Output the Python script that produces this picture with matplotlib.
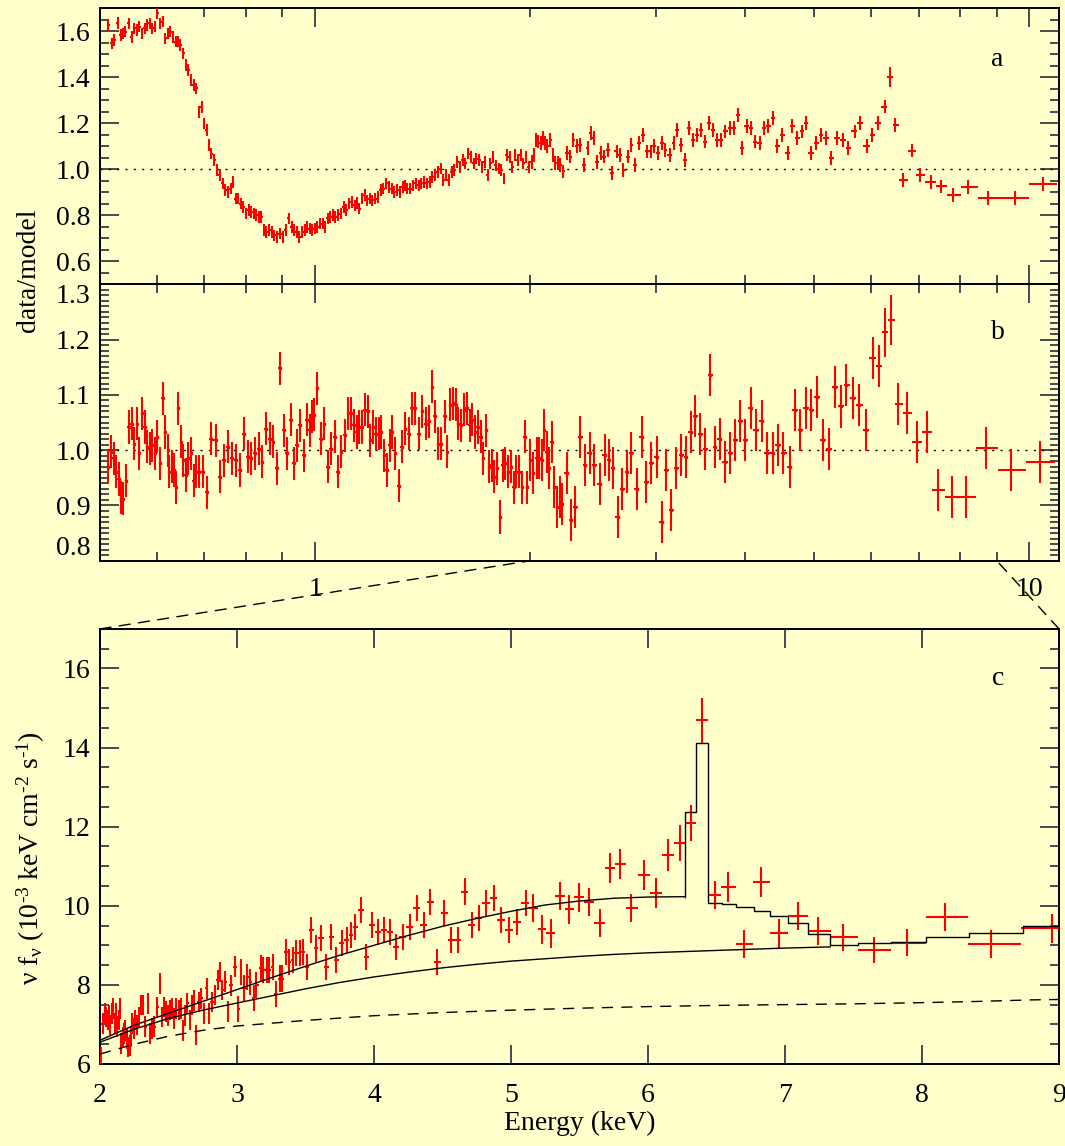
import numpy as np
import matplotlib
matplotlib.use("Agg")
import matplotlib.pyplot as plt
from matplotlib.patches import ConnectionPatch
from matplotlib.ticker import FixedLocator, MultipleLocator, NullFormatter, LogLocator

plt.rcParams['font.family'] = ['Liberation Serif', 'DejaVu Serif']
plt.rcParams['mathtext.fontset'] = 'custom'
plt.rcParams['mathtext.rm'] = 'Liberation Serif'
plt.rcParams['mathtext.it'] = 'Liberation Serif:italic'
plt.rcParams['mathtext.default'] = 'regular'

# ---------------- Panel a : data/model (soft part, 0.5-2 keV) ----------------
a_energy_soft = [0.5135, 0.5191, 0.5238, 0.5296, 0.5343, 0.5384, 0.5426, 0.5487, 0.5536, 0.5585,
                 0.5628, 0.5672, 0.5723, 0.5774, 0.5819, 0.5865, 0.5917, 0.5970, 0.6016, 0.6063,
                 0.6117, 0.6171, 0.6220, 0.6268, 0.6324, 0.6380, 0.6430, 0.6480, 0.6538, 0.6596,
                 0.6647, 0.6699, 0.6759, 0.6819, 0.6880, 0.6941, 0.6987, 0.7050, 0.7105, 0.7160,
                 0.7224, 0.7288, 0.7353, 0.7427, 0.7485, 0.7551, 0.7619, 0.7678, 0.7747, 0.7807,
                 0.7868, 0.7938, 0.8000, 0.8071, 0.8143, 0.8206, 0.8270, 0.8344, 0.8400, 0.8484,
                 0.8550, 0.8626, 0.8703, 0.8771, 0.8839, 0.8938, 0.9017, 0.9097, 0.9198, 0.9270,
                 0.9342, 0.9425, 0.9509, 0.9594, 0.9680, 0.9744, 0.9831, 0.9908, 0.9985, 1.0074,
                 1.0164, 1.0243, 1.0323, 1.0415, 1.0507, 1.0589, 1.0672, 1.0767, 1.0863, 1.0960,
                 1.1063, 1.1156, 1.1255, 1.1356, 1.1445, 1.1534, 1.1637, 1.1740, 1.1832, 1.1924,
                 1.2031, 1.2138, 1.2246, 1.2355, 1.2465, 1.2576, 1.2688, 1.2801, 1.2915, 1.3030,
                 1.3146, 1.3263, 1.3366, 1.3470, 1.3590, 1.3711, 1.3833, 1.3957, 1.4088, 1.4207,
                 1.4333, 1.4461, 1.4590, 1.4720, 1.4851, 1.4983, 1.5117, 1.5251, 1.5387, 1.5524,
                 1.5671, 1.5811, 1.5953, 1.6095, 1.6239, 1.6383, 1.6529, 1.6677, 1.6825, 1.6975,
                 1.7127, 1.7279, 1.7434, 1.7589, 1.7746, 1.7904, 1.8064, 1.8225, 1.8388, 1.8552,
                 1.8717, 1.8884, 1.9052, 1.9222, 1.9393, 1.9566, 1.9741, 1.9917, 2.0094]
a_ratio_soft = [1.626, 1.546, 1.561, 1.636, 1.583, 1.590, 1.597, 1.633, 1.575, 1.612,
                1.604, 1.619, 1.590, 1.612, 1.626, 1.633, 1.612, 1.619, 1.677, 1.633,
                1.641, 1.568, 1.590, 1.597, 1.575, 1.554, 1.554, 1.539, 1.503, 1.452,
                1.430, 1.387, 1.365, 1.351, 1.249, 1.271, 1.199, 1.170, 1.104, 1.068,
                1.039, 0.996, 0.974, 0.938, 0.909, 0.901, 0.916, 0.945, 0.872, 0.872,
                0.851, 0.836, 0.807, 0.822, 0.814, 0.807, 0.800, 0.793, 0.793, 0.735,
                0.728, 0.735, 0.728, 0.713, 0.706, 0.720, 0.706, 0.735, 0.786, 0.749,
                0.735, 0.728, 0.706, 0.728, 0.735, 0.749, 0.742, 0.735, 0.742, 0.749,
                0.764, 0.764, 0.749, 0.786, 0.793, 0.800, 0.793, 0.800, 0.807, 0.836,
                0.822, 0.851, 0.858, 0.843, 0.854, 0.829, 0.872, 0.887, 0.865, 0.872,
                0.865, 0.872, 0.880, 0.909, 0.916, 0.938, 0.923, 0.916, 0.901, 0.909,
                0.901, 0.923, 0.930, 0.916, 0.916, 0.930, 0.938, 0.930, 0.938, 0.945,
                0.938, 0.945, 0.967, 0.974, 0.988, 1.003, 0.952, 0.974, 0.952, 0.988,
                0.996, 1.032, 1.010, 1.039, 1.025, 1.068, 1.054, 1.025, 1.046, 1.039,
                1.010, 1.032, 0.974, 1.025, 1.054, 1.017, 1.003, 0.996, 0.959, 1.061,
                1.054, 1.010, 1.061, 1.039, 1.061, 1.025, 1.054, 1.010, 1.032]

# ---------------- Panel a : data/model (hard part, 2-11 keV) ----------------
a_energy_hard = [2.0237, 2.0371, 2.0529, 2.0687, 2.0824, 2.0985, 2.1147, 2.1334, 2.1522, 2.1689,
                 2.1856, 2.2049, 2.2244, 2.2539, 2.2738, 2.2989, 2.3243, 2.3500, 2.3759, 2.4075,
                 2.4341, 2.4556, 2.4827, 2.5102, 2.5380, 2.5717, 2.6059, 2.6433, 2.6725, 2.7021,
                 2.7410, 2.7713, 2.8081, 2.8392, 2.8769, 2.9183, 2.9506, 2.9832, 3.0162, 3.0597,
                 3.0935, 3.1346, 3.1763, 3.2114, 3.2577, 3.2937, 3.3375, 3.3781, 3.4229, 3.4684,
                 3.5144, 3.5611, 3.6004, 3.6483, 3.6969, 3.7542, 3.8040, 3.8545, 3.9057, 3.9576,
                 4.0189, 4.0723, 4.1263, 4.1904, 4.2555, 4.3120, 4.3692, 4.4371, 4.5060, 4.5860,
                 4.6571, 4.7295, 4.8029, 4.8668, 4.9424, 5.0301, 5.1083, 5.1876, 5.2797, 5.3854,
                 5.4810, 5.5784, 5.6899, 5.7909, 5.9196, 6.0247, 6.1453, 6.2682, 6.3723, 6.4926,
                 6.6587, 6.8443, 7.0349, 7.2709, 7.5149, 7.8268, 8.2052, 8.7630, 9.5382, 10.450]
a_ratio_hard = [1.062, 1.128, 1.120, 1.113, 1.135, 1.113, 1.099, 1.128, 1.062, 1.026,
                1.026, 1.019, 0.990, 1.070, 1.055, 1.128, 1.099, 1.106, 1.019, 1.091,
                1.157, 1.135, 1.033, 1.070, 1.055, 1.084, 0.983, 1.077, 1.062, 0.997,
                1.055, 1.106, 1.019, 1.113, 1.149, 1.077, 1.077, 1.099, 1.070, 1.113,
                1.084, 1.062, 1.113, 1.171, 1.106, 1.041, 1.178, 1.128, 1.149, 1.171,
                1.120, 1.200, 1.171, 1.128, 1.128, 1.164, 1.178, 1.178, 1.236, 1.091,
                1.186, 1.178, 1.120, 1.113, 1.178, 1.186, 1.222, 1.099, 1.149, 1.070,
                1.186, 1.135, 1.164, 1.200, 1.070, 1.113, 1.149, 1.135, 1.048, 1.135,
                1.128, 1.091, 1.164, 1.200, 1.099, 1.149, 1.200, 1.272, 1.400, 1.193,
                0.954, 1.081, 0.975, 0.946, 0.925, 0.888, 0.922, 0.874, 0.874, 0.936]

# ---------------- Panel b : data/model after refit ----------------
b_energy_soft = [0.5135, 0.5179, 0.5226, 0.5267, 0.5308, 0.5355, 0.5391, 0.5439, 0.5487, 0.5536,
                 0.5585, 0.5628, 0.5672, 0.5723, 0.5774, 0.5819, 0.5865, 0.5917, 0.5970, 0.6016,
                 0.6063, 0.6117, 0.6171, 0.6220, 0.6254, 0.6303, 0.6345, 0.6394, 0.6437, 0.6487,
                 0.6538, 0.6589, 0.6647, 0.6699, 0.6759, 0.6812, 0.6872, 0.6972, 0.7050, 0.7160,
                 0.7256, 0.7353, 0.7452, 0.7551, 0.7653, 0.7747, 0.7851, 0.7946, 0.8053, 0.8143,
                 0.8252, 0.8344, 0.8437, 0.8531, 0.8645, 0.8741, 0.8839, 0.8938, 0.9037, 0.9138,
                 0.9239, 0.9332, 0.9425, 0.9530, 0.9637, 0.9744, 0.9831, 0.9897, 0.9963, 1.0074,
                 1.0187, 1.0301, 1.0415, 1.0530, 1.0648, 1.0767, 1.0887, 1.1008, 1.1131, 1.1230,
                 1.1330, 1.1431, 1.1534, 1.1637, 1.1740, 1.1845, 1.1951, 1.2057, 1.2165, 1.2274,
                 1.2383, 1.2493, 1.2604, 1.2716, 1.2829, 1.2944, 1.3088, 1.3234, 1.3366, 1.3515,
                 1.3666, 1.3818, 1.3973, 1.4129, 1.4286, 1.4445, 1.4574, 1.4720, 1.4885, 1.5017,
                 1.5185, 1.5319, 1.5455, 1.5593, 1.5732, 1.5872, 1.6014, 1.6157, 1.6311, 1.6455,
                 1.6602, 1.6750, 1.6900, 1.7050, 1.7203, 1.7356, 1.7511, 1.7668, 1.7825, 1.7985,
                 1.8145, 1.8307, 1.8470, 1.8635, 1.8801, 1.8969, 1.9137, 1.9307, 1.9479, 1.9653,
                 1.9829, 2.0005, 2.0183]
b_ratio_soft = [0.970, 0.997, 0.985, 0.961, 0.948, 0.915, 0.912, 0.945, 1.042, 1.048,
                1.012, 1.048, 0.994, 1.067, 1.042, 1.006, 1.003, 1.009, 0.994, 1.024,
                0.976, 1.094, 1.033, 1.000, 0.961, 0.970, 0.964, 0.933, 1.076, 1.015,
                0.982, 0.955, 0.985, 0.994, 0.945, 0.961, 0.961, 0.961, 0.924, 1.021,
                1.018, 0.952, 0.982, 1.006, 0.985, 0.982, 0.964, 1.030, 0.988, 0.985,
                0.994, 1.003, 0.979, 1.039, 1.021, 1.015, 0.967, 1.148, 1.036, 0.994,
                1.055, 0.976, 1.009, 1.045, 0.991, 1.055, 1.036, 1.061, 1.064, 1.112,
                1.021, 1.048, 0.970, 1.003, 1.024, 0.961, 0.997, 1.027, 1.067, 1.067,
                1.045, 1.033, 1.042, 1.042, 1.073, 1.070, 1.018, 1.042, 1.030, 1.030,
                1.033, 0.991, 0.964, 1.009, 1.033, 0.994, 0.936, 1.006, 1.039, 1.030,
                1.076, 1.076, 1.030, 1.070, 1.048, 1.052, 1.115, 1.061, 1.012, 1.012,
                1.061, 0.997, 1.082, 1.085, 1.082, 1.048, 1.045, 1.073, 1.076, 1.045,
                1.055, 1.033, 1.042, 1.024, 0.985, 1.036, 0.970, 0.973, 0.952, 0.967,
                0.879, 0.973, 0.976, 0.961, 0.970, 0.933, 0.961, 0.961, 0.933, 1.024,
                0.933, 0.982, 0.958]
b_energy_hard = [2.0416, 2.0596, 2.0755, 2.0915, 2.1100, 2.1287, 2.1427, 2.1616, 2.1807, 2.2049,
                 2.2195, 2.2490, 2.2789, 2.3143, 2.3500, 2.3864, 2.4235, 2.4611, 2.5019, 2.5435,
                 2.5773, 2.6144, 2.6521, 2.6932, 2.7320, 2.7713, 2.8236, 2.8643, 2.9087, 2.9571,
                 3.0063, 3.0563, 3.1003, 3.1519, 3.2044, 3.2577, 3.3045, 3.3558, 3.4041, 3.4607,
                 3.5183, 3.5768, 3.6285, 3.6847, 3.7462, 3.8127, 3.8719, 3.9363, 4.0018, 4.0723,
                 4.1400, 4.2181, 4.2884, 4.3692, 4.4420, 4.5258, 4.6163, 4.6982, 4.7765, 4.8668,
                 4.9533, 5.0467, 5.1420, 5.2333, 5.3438, 5.4446, 5.5413, 5.6645, 5.7778, 5.9064,
                 6.0314, 6.1520, 6.2682, 6.4078, 6.5501, 6.7473, 6.9506, 7.1760, 7.4492, 7.7839,
                 8.1602, 8.6960, 9.4135, 10.358]
b_ratio_hard = [0.985, 0.985, 0.982, 1.036, 0.997, 0.967, 1.015, 0.933, 0.897, 0.915,
                0.903, 0.958, 0.873, 0.897, 1.024, 0.973, 0.994, 0.973, 0.939, 0.991,
                0.982, 0.967, 0.879, 0.930, 0.961, 0.994, 0.930, 1.024, 0.942, 0.976,
                0.988, 0.870, 0.964, 0.891, 0.967, 0.991, 0.988, 1.033, 1.061, 1.030,
                1.003, 1.136, 1.006, 1.021, 0.979, 0.994, 1.018, 1.052, 1.018, 1.076,
                1.036, 1.052, 0.994, 0.994, 1.009, 0.994, 0.970, 1.073, 1.036, 1.076,
                1.073, 1.097, 1.018, 1.003, 1.115, 1.079, 1.118, 1.094, 1.082, 1.036,
                1.167, 1.152, 1.213, 1.236, 1.084, 1.067, 1.015, 1.032, 0.928, 0.915,
                0.916, 1.004, 0.965, 0.979]

# ---------------- Panel c : unfolded nu F_nu spectrum 2-9 keV ----------------
c_energy = [2.005, 2.020, 2.035, 2.045, 2.055, 2.065, 2.075, 2.085, 2.095, 2.106,
            2.116, 2.126, 2.136, 2.146, 2.156, 2.166, 2.176, 2.186, 2.196, 2.206,
            2.216, 2.226, 2.236, 2.246, 2.256, 2.271, 2.286, 2.302, 2.317, 2.332,
            2.347, 2.367, 2.382, 2.397, 2.417, 2.437, 2.452, 2.467, 2.482, 2.497,
            2.513, 2.528, 2.543, 2.558, 2.573, 2.588, 2.608, 2.623, 2.638, 2.658,
            2.673, 2.688, 2.704, 2.719, 2.739, 2.759, 2.779, 2.794, 2.819, 2.839,
            2.859, 2.879, 2.894, 2.915, 2.935, 2.955, 2.985, 3.010, 3.030, 3.050,
            3.075, 3.095, 3.121, 3.141, 3.176, 3.191, 3.216, 3.236, 3.261, 3.286,
            3.312, 3.332, 3.357, 3.382, 3.407, 3.432, 3.457, 3.482, 3.513, 3.543,
            3.575, 3.613, 3.651, 3.688, 3.726, 3.764, 3.802, 3.834, 3.864, 3.902,
            3.945, 3.985, 4.028, 4.070, 4.116, 4.161, 4.211, 4.261, 4.312, 4.362,
            4.412, 4.462, 4.513, 4.563, 4.613, 4.663, 4.714, 4.764, 4.819, 4.874,
            4.925, 4.985, 5.045, 5.106,
            5.160, 5.227, 5.289, 5.359, 5.424, 5.496, 5.566, 5.646, 5.721, 5.796,
            5.878, 5.970, 6.057, 6.147, 6.232, 6.312, 6.394, 6.486, 6.586, 6.703,
            6.825, 6.955, 7.095, 7.244, 7.424, 7.648, 7.893, 8.165, 8.501, 8.950]
c_flux = [6.18, 7.02, 7.28, 7.19, 7.11, 7.23, 6.98, 7.28, 7.40, 7.02,
          7.28, 6.94, 7.11, 7.40, 6.52, 6.68, 6.77, 6.85, 6.64, 6.43,
          6.47, 6.68, 7.02, 6.90, 7.11, 6.98, 7.19, 7.49, 7.49, 6.94,
          7.53, 6.77, 6.90, 6.94, 7.44, 8.04, 7.19, 7.44, 7.32, 7.23,
          7.36, 7.40, 7.15, 7.40, 7.36, 7.40, 6.85, 7.23, 7.53, 7.11,
          7.49, 7.61, 6.73, 7.57, 7.66, 7.28, 7.91, 7.28, 7.57, 7.74,
          8.12, 8.33, 7.87, 8.08, 7.32, 7.99, 8.46, 7.40, 8.33, 7.91,
          8.20, 8.08, 7.66, 7.99, 8.42, 8.37, 8.37, 8.37, 8.46, 7.78,
          8.16, 8.16, 8.84, 8.58, 8.63, 8.80, 8.80, 8.84, 8.46, 9.39,
          8.92, 9.18, 8.46, 9.22, 8.63, 9.05, 9.13, 9.26, 9.47, 9.89,
          8.71, 9.51, 9.34, 9.39, 9.34, 8.96, 9.22, 9.47, 9.94, 9.51,
          10.10, 8.58, 9.81, 9.13, 9.13, 10.36, 9.51, 9.68, 10.06, 10.19,
          9.64, 9.39, 9.60, 10.06,
          9.94, 9.40, 9.30, 10.25, 9.91, 10.21, 10.10, 9.57, 10.95, 11.06,
          9.94, 10.77, 10.32, 11.28, 11.58, 12.09, 14.69, 10.27, 10.47, 9.03,
          10.61, 9.30, 9.74, 9.36, 9.20, 8.88, 9.07, 9.72, 9.03, 9.43]
c_err_hard = [0.36, 0.36, 0.36, 0.36, 0.36, 0.36, 0.36, 0.36, 0.38, 0.38,
              0.36, 0.38, 0.38, 0.40, 0.45, 0.46, 0.57, 0.36, 0.38, 0.36,
              0.38, 0.36, 0.36, 0.36, 0.34, 0.34, 0.34, 0.36, 0.36, 0.36]

# model: total (smooth continuum part + line / binned part), continuum, dashed component
model_total_E = [2.0, 2.25, 2.5, 2.75, 3.0, 3.25, 3.5, 3.75, 4.0, 4.25, 4.5, 4.75,
                 5.0, 5.25, 5.5, 5.75, 6.0, 6.27]
model_total_F = [6.60, 6.98, 7.28, 7.58, 7.88, 8.18, 8.47, 8.75, 9.0, 9.25, 9.48, 9.68,
                 9.86, 10.02, 10.12, 10.19, 10.22, 10.23]
model_bins_E = [6.27, 6.27, 6.35, 6.44, 6.54, 6.64, 6.77, 6.89, 7.02, 7.17, 7.33, 7.53,
                7.77, 8.03, 8.34, 8.74, 9.0]
model_bins_F = [10.23, 12.38, 14.12, 10.08, 10.05, 9.98, 9.87, 9.74, 9.56, 9.28, 9.02, 9.05,
                9.09, 9.20, 9.32, 9.50, 9.50]
cont_E = [2.0, 2.25, 2.5, 2.75, 3.0, 3.25, 3.5, 3.75, 4.0, 4.25, 4.5, 4.75, 5.0, 5.25,
          5.5, 5.75, 6.0, 6.25, 6.5, 6.75, 7.0, 7.33]
cont_F = [6.55, 6.88, 7.15, 7.36, 7.54, 7.72, 7.90, 8.06, 8.20, 8.32, 8.43, 8.52, 8.60, 8.66,
          8.72, 8.77, 8.81, 8.84, 8.87, 8.90, 8.93, 8.96]
dash_E = [2.0, 2.25, 2.5, 2.75, 3.0, 3.5, 4.0, 4.5, 5.0, 5.5, 6.0, 6.5, 7.0, 7.5, 8.0, 8.4, 8.8, 9.0]
dash_F = [6.25, 6.50, 6.70, 6.85, 6.96, 7.10, 7.22, 7.30, 7.36, 7.41, 7.45, 7.48, 7.50, 7.52,
          7.55, 7.58, 7.62, 7.63]

ratio_ticks_a = [0.6, 0.8, 1.0, 1.2, 1.4, 1.6]
ratio_ticks_b = [0.8, 0.9, 1.0, 1.1, 1.2, 1.3]
flux_ticks = [6, 8, 10, 12, 14, 16]
energy_ticks_c = [2, 3, 4, 5, 6, 7, 8, 9]

BG = '#FFFFCC'
RED = '#FF0000'
TICKC = '#4a4a4a'
FS = 20


def log_halfwidths(E):
    le = np.log10(np.asarray(E))
    mid = (le[1:] + le[:-1]) / 2
    lo = np.concatenate([[2 * le[0] - mid[0]], mid])
    hi = np.concatenate([mid, [2 * le[-1] - mid[-1]]])
    E = 10 ** le
    return E - 10 ** lo, 10 ** hi - E


def lin_halfwidths(E):
    E = np.asarray(E)
    mid = (E[1:] + E[:-1]) / 2
    lo = np.concatenate([[2 * E[0] - mid[0]], mid])
    hi = np.concatenate([mid, [2 * E[-1] - mid[-1]]])
    return E - lo, hi - E


def style_axes(ax):
    ax.set_facecolor(BG)
    for s in ax.spines.values():
        s.set_linewidth(1.4)
        s.set_color('black')
    ax.tick_params(which='both', direction='in', top=True, right=True,
                   color=TICKC, width=1.4, labelsize=FS)
    ax.tick_params(which='major', length=13.5)
    ax.tick_params(which='minor', length=6.5)
    ax.tick_params(axis='y', pad=7)


fig = plt.figure(figsize=(10.65, 11.46), dpi=100, facecolor=BG)
L, W = 0.0939, 0.9005
ax_a = fig.add_axes([L, 0.7519, W, 0.2411])
ax_b = fig.add_axes([L, 0.5107, W, 0.2412])
ax_c = fig.add_axes([L, 0.0716, W, 0.3796])

# ---- panel a ----
aE = np.array(a_energy_soft + a_energy_hard)
aR = np.array(a_ratio_soft + a_ratio_hard)
aerr = np.where(aE < 2.0, 0.025, 0.03)
aerr[np.argmax(aR[aE > 6]) + np.sum(aE <= 6)] = 0.045
axl, axh = log_halfwidths(aE)
ax_a.errorbar(aE, aR, xerr=[axl, axh], yerr=aerr, fmt='none', ecolor=RED,
              elinewidth=1.5, capsize=0, zorder=3)
ax_a.axhline(1.0, color='black', lw=1.0, ls=(0, (1.5, 4.5)), zorder=2)
ax_a.set_xscale('log')
ax_a.set_xlim(0.5, 11)
ax_a.set_ylim(0.5, 1.7)
ax_a.yaxis.set_major_locator(FixedLocator(ratio_ticks_a))
ax_a.yaxis.set_minor_locator(MultipleLocator(0.05))
ax_a.set_yticklabels([f'{t:.1f}' for t in ratio_ticks_a])
style_axes(ax_a)
ax_a.xaxis.set_major_locator(FixedLocator([1, 10]))
ax_a.xaxis.set_minor_locator(LogLocator(base=10, subs=np.arange(2, 10)))
ax_a.xaxis.set_major_formatter(NullFormatter())
ax_a.xaxis.set_minor_formatter(NullFormatter())
ax_a.text(0.936, 0.815, 'a', transform=ax_a.transAxes, fontsize=FS, ha='center', va='center')

# ---- panel b ----
bE = np.array(b_energy_soft + b_energy_hard)
bR = np.array(b_ratio_soft + b_ratio_hard)
berr = np.where(bE < 2.0, 0.03, 0.038)
berr[(bE > 6.2) & (bE < 6.5)] = 0.045
bxl, bxh = log_halfwidths(bE)
ax_b.errorbar(bE, bR, xerr=[bxl, bxh], yerr=berr, fmt='none', ecolor=RED,
              elinewidth=1.5, capsize=0, zorder=3)
ax_b.plot(bE[bE < 6.0], bR[bE < 6.0], ls='none', marker='s', ms=1.6, color=RED, zorder=3)
ax_b.axhline(1.0, color='black', lw=1.0, ls=(0, (1.5, 4.5)), zorder=2)
ax_b.set_xscale('log')
ax_b.set_xlim(0.5, 11)
ax_b.set_ylim(0.8, 1.3)
ax_b.yaxis.set_major_locator(FixedLocator(ratio_ticks_b))
ax_b.yaxis.set_minor_locator(MultipleLocator(0.01))
ax_b.set_yticklabels([f'{t:.1f}' for t in ratio_ticks_b])
style_axes(ax_b)
ax_b.xaxis.set_major_locator(FixedLocator([1, 10]))
ax_b.xaxis.set_minor_locator(LogLocator(base=10, subs=np.arange(2, 10)))
ax_b.set_xticklabels(['1', '10'])
ax_b.xaxis.set_minor_formatter(NullFormatter())
ax_b.tick_params(axis='x', pad=12)
ax_b.get_yticklabels()[-1].set_va('top')
ax_b.get_yticklabels()[0].set_va('bottom')
ax_b.text(0.936, 0.824, 'b', transform=ax_b.transAxes, fontsize=FS, ha='center', va='center')

# ---- panel c ----
cE = np.array(c_energy)
cF = np.array(c_flux)
n_soft = len(cE) - len(c_err_hard)
cerr = np.concatenate([np.where(cE[:n_soft] < 3.0, 0.26, 0.33), c_err_hard])
cxl, cxh = lin_halfwidths(cE)
ax_c.errorbar(cE, cF, xerr=[cxl, cxh], yerr=cerr, fmt='none', ecolor=RED,
              elinewidth=1.5, capsize=0, zorder=3)
ax_c.plot(model_total_E, model_total_F, color='black', lw=1.0, zorder=4)
ax_c.plot(model_bins_E, model_bins_F, color='black', lw=1.0, drawstyle='steps-post', zorder=4)
ax_c.plot(cont_E, cont_F, color='black', lw=1.0, zorder=4)
ax_c.plot(dash_E, dash_F, color='black', lw=1.0, ls=(0, (8, 6)), zorder=4)
ax_c.set_xlim(2, 9)
ax_c.set_ylim(6, 17)
ax_c.xaxis.set_major_locator(FixedLocator(energy_ticks_c))
ax_c.yaxis.set_major_locator(FixedLocator(flux_ticks))
ax_c.yaxis.set_minor_locator(MultipleLocator(0.5))
style_axes(ax_c)
ax_c.tick_params(axis='x', pad=14)
ax_c.set_xlabel('Energy (keV)', fontsize=FS, labelpad=2)
ax_c.text(0.936, 0.887, 'c', transform=ax_c.transAxes, fontsize=FS, ha='center', va='center')

# y labels
fig.text(0.027, 0.764, 'data/model', rotation=90, fontsize=FS, ha='center', va='center')
fig.text(0.029, 0.251, r'$\nu\ f_{\nu}\ (10^{\text{-}3}\ keV\ cm^{\text{-}2}\ s^{\text{-}1})$',
         rotation=90, fontsize=FS, ha='center', va='center')

# zoom connector lines from panel c to panel b energy range
for e in (2.0, 9.0):
    con = ConnectionPatch(xyA=(e, 17), coordsA=ax_c.transData,
                          xyB=(e, 0.8), coordsB=ax_b.transData,
                          color='black', lw=1.0, ls=(0, (8, 6)))
    fig.add_artist(con)

fig.savefig('out.png', dpi=100, facecolor=BG)
